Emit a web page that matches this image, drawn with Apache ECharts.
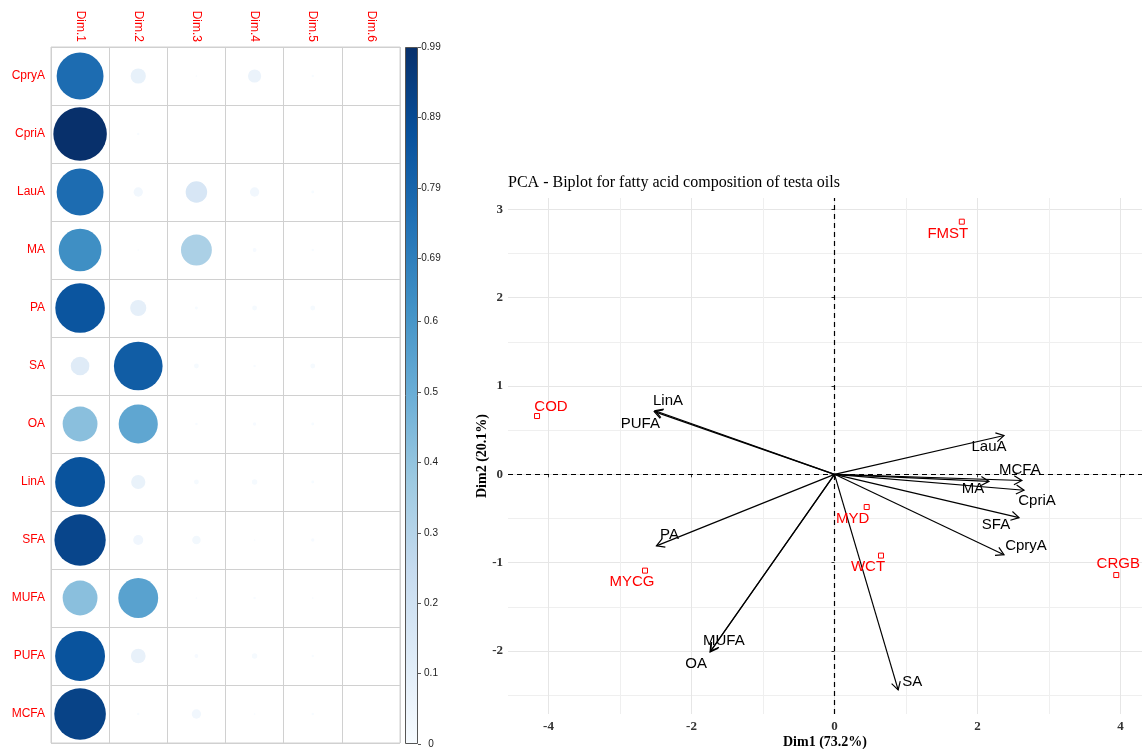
<!DOCTYPE html>
<html>
<head>
<meta charset="utf-8">
<script src="https://cdn.jsdelivr.net/npm/echarts@6.0.0/dist/echarts.min.js"></script>
<style>
  html, body { margin: 0; padding: 0; background: #fff; }
  #chart { width: 1142px; height: 749px; }
</style>
</head>
<body>
<div id="chart"></div>
<script>
// ---- Quality of representation (cos2) of each variable on the PCA dimensions ----
const variables = ['CpryA', 'CpriA', 'LauA', 'MA', 'PA', 'SA', 'OA', 'LinA', 'SFA', 'MUFA', 'PUFA', 'MCFA'];
const dims = ['Dim.1', 'Dim.2', 'Dim.3', 'Dim.4', 'Dim.5', 'Dim.6'];
const cos2Dim1 = [0.76, 0.99, 0.76, 0.63, 0.85, 0.12, 0.42, 0.86, 0.91, 0.42, 0.86, 0.92];
const cos2Dim2 = [0.08, 0.002, 0.03, 0.001, 0.09, 0.82, 0.53, 0.07, 0.035, 0.55, 0.075, 0.002];
const cos2Dim3 = [0.001, 0, 0.16, 0.33, 0.003, 0.008, 0.002, 0.008, 0.025, 0.001, 0.005, 0.03];
const cos2Dim4 = [0.06, 0, 0.03, 0.005, 0.008, 0.002, 0.004, 0.01, 0.001, 0.002, 0.01, 0.001];
const cos2Dim5 = [0.002, 0, 0.003, 0.002, 0.008, 0.008, 0.003, 0.003, 0.004, 0.001, 0.002, 0.002];
const cos2Dim6 = [0, 0, 0, 0, 0, 0, 0, 0, 0, 0, 0, 0];
const cos2Max = 0.99;
const colorbarTicks = [0, 0.1, 0.2, 0.3, 0.4, 0.5, 0.6, 0.69, 0.79, 0.89, 0.99];

// ---- Biplot: variable loadings (arrows) and oil samples (points) ----
const varNames = ['CpryA', 'CpriA', 'LauA', 'MA', 'PA', 'SA', 'OA', 'LinA', 'SFA', 'MUFA', 'PUFA', 'MCFA'];
const varDim1 = [2.37, 2.65, 2.37, 2.16, -2.49, 0.89, -1.74, -2.51, 2.58, -1.73, -2.52, 2.62];
const varDim2 = [-0.91, -0.18, 0.44, -0.08, -0.81, -2.44, -2.01, 0.72, -0.49, -2.00, 0.71, -0.07];
const sampleNames = ['FMST', 'COD', 'MYD', 'WCT', 'CRGB', 'MYCG'];
const sampleDim1 = [1.78, -4.16, 0.45, 0.65, 3.94, -2.65];
const sampleDim2 = [2.86, 0.66, -0.37, -0.92, -1.14, -1.09];
const xTicks = [-4, -2, 0, 2, 4];
const xMinorTicks = [-3, -1, 1, 3];
const yTicks = [-2, -1, 0, 1, 2, 3];
const yMinorTicks = [-2.5, -1.5, -0.5, 0.5, 1.5, 2.5];

// label placement (pixel offsets of the text centre from the mark)
const varLabelOffset = [[22, -9], [13, 11], [-15, 11], [-16, 7], [13, -11], [14, -8], [-14, 12], [13, -10], [-23, 7], [13, -10], [-14, 12], [-2, -11]];
const sampleLabelOffset = [[-14, 12], [14, -9], [-14, 12], [-13, 11], [2, -11], [-13, 11]];

const blues = ['#F7FBFF', '#DEEBF7', '#C6DBEF', '#9ECAE1', '#6BAED6', '#4292C6', '#2171B5', '#08519C', '#08306B'];
const sans = '"Liberation Sans", Arial, sans-serif';
const serif = '"Liberation Serif", "Times New Roman", serif';

const cos2ByDim = [cos2Dim1, cos2Dim2, cos2Dim3, cos2Dim4, cos2Dim5, cos2Dim6];
const corrData = [];
cos2ByDim.forEach(function (col, c) {
  col.forEach(function (v, r) { corrData.push([c, r, v]); });
});

const arrowData = varDim1.map(function (x, i) { return [x, varDim2[i]]; });
const sampleData = sampleDim1.map(function (x, i) {
  return {
    value: [x, sampleDim2[i]],
    name: sampleNames[i],
    label: { offset: sampleLabelOffset[i] }
  };
});

const gradStops = blues.map(function (c, i) {
  return { offset: 1 - i / (blues.length - 1), color: c };
});

const xMin = -4.566, xMax = 4.30, yMin = -2.713, yMax = 3.128;

const chart = echarts.init(document.getElementById('chart'), null, { renderer: 'canvas' });
chart.setOption({
  animation: false,
  backgroundColor: '#ffffff',
  title: {
    text: 'PCA - Biplot for fatty acid composition of testa oils',
    left: 508, top: 175, padding: 0,
    textStyle: { fontFamily: serif, fontWeight: 'normal', fontSize: 16, color: '#000' }
  },
  visualMap: {
    type: 'continuous', show: false, seriesIndex: 0, dimension: 2,
    min: 0, max: cos2Max, inRange: { color: blues }
  },
  grid: [
    { left: 51, top: 47, width: 349, height: 696, show: true, borderColor: '#d0d0d0', borderWidth: 1, outerBoundsMode: 'none', containLabel: false },
    { left: 508, top: 198, right: 0, height: 516, outerBoundsMode: 'none', containLabel: false },
    { left: 405, top: 47, width: 13, height: 697, outerBoundsMode: 'none', containLabel: false }
  ],
  xAxis: [
    {
      gridIndex: 0, type: 'category', data: dims, position: 'top',
      axisLine: { show: false }, axisTick: { show: false },
      axisLabel: { rotate: 90, color: '#ff0000', fontSize: 12, fontFamily: sans, margin: 5 },
      splitLine: { show: true, lineStyle: { color: '#d0d0d0', width: 1 } }
    },
    {
      gridIndex: 1, type: 'value', min: xMin, max: xMax,
      axisLine: { show: false },
      axisTick: { show: true, length: 3, customValues: xTicks, lineStyle: { color: '#333' } },
      axisLabel: { customValues: xTicks, color: '#333', fontSize: 13, fontWeight: 'bold', fontFamily: serif, margin: 6 },
      splitLine: { show: true, lineStyle: { color: '#e6e6e6', width: 1 } },
      name: 'Dim1 (73.2%)', nameLocation: 'middle', nameGap: 21, nameMoveOverlap: false,
      nameTextStyle: { fontFamily: serif, fontWeight: 'bold', fontSize: 14, color: '#000' }
    },
    {
      gridIndex: 1, type: 'value', min: xMin, max: xMax,
      axisLine: { show: false },
      axisTick: { show: false, customValues: xMinorTicks },
      axisLabel: { show: false, customValues: xMinorTicks },
      splitLine: { show: true, lineStyle: { color: '#efefef', width: 1 } }
    },
    {
      gridIndex: 2, type: 'category', data: ['cos2'], show: false
    }
  ],
  yAxis: [
    {
      gridIndex: 0, type: 'category', data: variables, inverse: true,
      axisLine: { show: false }, axisTick: { show: false },
      axisLabel: { color: '#ff0000', fontSize: 12, fontFamily: sans, margin: 6 },
      splitLine: { show: true, lineStyle: { color: '#d0d0d0', width: 1 } }
    },
    {
      gridIndex: 1, type: 'value', min: yMin, max: yMax,
      axisLine: { show: false },
      axisTick: { show: true, length: 3, customValues: yTicks, lineStyle: { color: '#333' } },
      axisLabel: { customValues: yTicks, color: '#333', fontSize: 13, fontWeight: 'bold', fontFamily: serif, margin: 5 },
      splitLine: { show: true, lineStyle: { color: '#e6e6e6', width: 1 } },
      name: 'Dim2 (20.1%)', nameLocation: 'middle', nameGap: 19, nameRotate: 90, nameMoveOverlap: false,
      nameTextStyle: { fontFamily: serif, fontWeight: 'bold', fontSize: 14, color: '#000' }
    },
    {
      gridIndex: 1, type: 'value', min: yMin, max: yMax,
      axisLine: { show: false },
      axisTick: { show: false, customValues: yMinorTicks },
      axisLabel: { show: false, customValues: yMinorTicks },
      splitLine: { show: true, lineStyle: { color: '#efefef', width: 1 } }
    },
    {
      gridIndex: 2, type: 'value', min: 0, max: cos2Max, position: 'right',
      axisLine: { show: false },
      axisTick: { show: true, length: 3, customValues: colorbarTicks, lineStyle: { color: '#555' } },
      axisLabel: { customValues: colorbarTicks, color: '#222', fontSize: 10, fontFamily: sans, margin: 13, align: 'center',
        formatter: function (v) { return String(v); } },
      splitLine: { show: false }
    }
  ],
  series: [
    {
      // cos2 circles: area follows the value, colour from the Blues scale
      type: 'scatter', xAxisIndex: 0, yAxisIndex: 0,
      symbol: 'circle',
      symbolSize: function (val) { return 53.5 * Math.sqrt(Math.max(val[2], 0) / cos2Max); },
      itemStyle: { opacity: 1 },
      data: corrData, silent: true
    },
    {
      // colour key
      type: 'bar', xAxisIndex: 3, yAxisIndex: 3, barWidth: '100%',
      data: [cos2Max], silent: true,
      itemStyle: {
        color: new echarts.graphic.LinearGradient(0, 0, 0, 1, gradStops),
        borderColor: '#555', borderWidth: 1
      }
    },
    {
      // oil samples
      type: 'scatter', xAxisIndex: 1, yAxisIndex: 1,
      symbol: 'rect', symbolSize: 5, z: 4,
      itemStyle: { color: 'rgba(255,255,255,0)', borderColor: '#ff0000', borderWidth: 1, opacity: 1 },
      label: {
        show: true, position: 'inside', formatter: '{b}',
        color: '#ff0000', fontSize: 15, fontFamily: sans
      },
      data: sampleData, silent: true,
      markLine: {
        silent: true, symbol: 'none', animation: false,
        label: { show: false },
        lineStyle: { color: '#000', type: [5, 4], width: 1.2 },
        data: [{ xAxis: 0 }, { yAxis: 0 }]
      }
    },
    {
      // variable arrows from the origin
      type: 'custom', xAxisIndex: 1, yAxisIndex: 1, z: 3,
      data: arrowData, silent: true,
      encode: { x: 0, y: 1 },
      renderItem: function (params, api) {
        const i = params.dataIndex;
        const o = api.coord([0, 0]);
        const p = api.coord([api.value(0), api.value(1)]);
        const ang = Math.atan2(p[1] - o[1], p[0] - o[0]);
        const L = 9, a = Math.PI / 6;
        const h1 = [p[0] - L * Math.cos(ang - a), p[1] - L * Math.sin(ang - a)];
        const h2 = [p[0] - L * Math.cos(ang + a), p[1] - L * Math.sin(ang + a)];
        const off = varLabelOffset[i];
        return {
          type: 'group',
          children: [
            { type: 'line', shape: { x1: o[0], y1: o[1], x2: p[0], y2: p[1] },
              style: { stroke: '#000', lineWidth: 1.2 } },
            { type: 'polyline', shape: { points: [h1, p, h2] },
              style: { stroke: '#000', fill: null, lineWidth: 1.2 } },
            { type: 'text', x: p[0] + off[0], y: p[1] + off[1],
              style: { text: varNames[i], fill: '#000', font: '15px ' + sans, align: 'center', verticalAlign: 'middle' } }
          ]
        };
      }
    }
  ]
});
</script>
</body>
</html>
